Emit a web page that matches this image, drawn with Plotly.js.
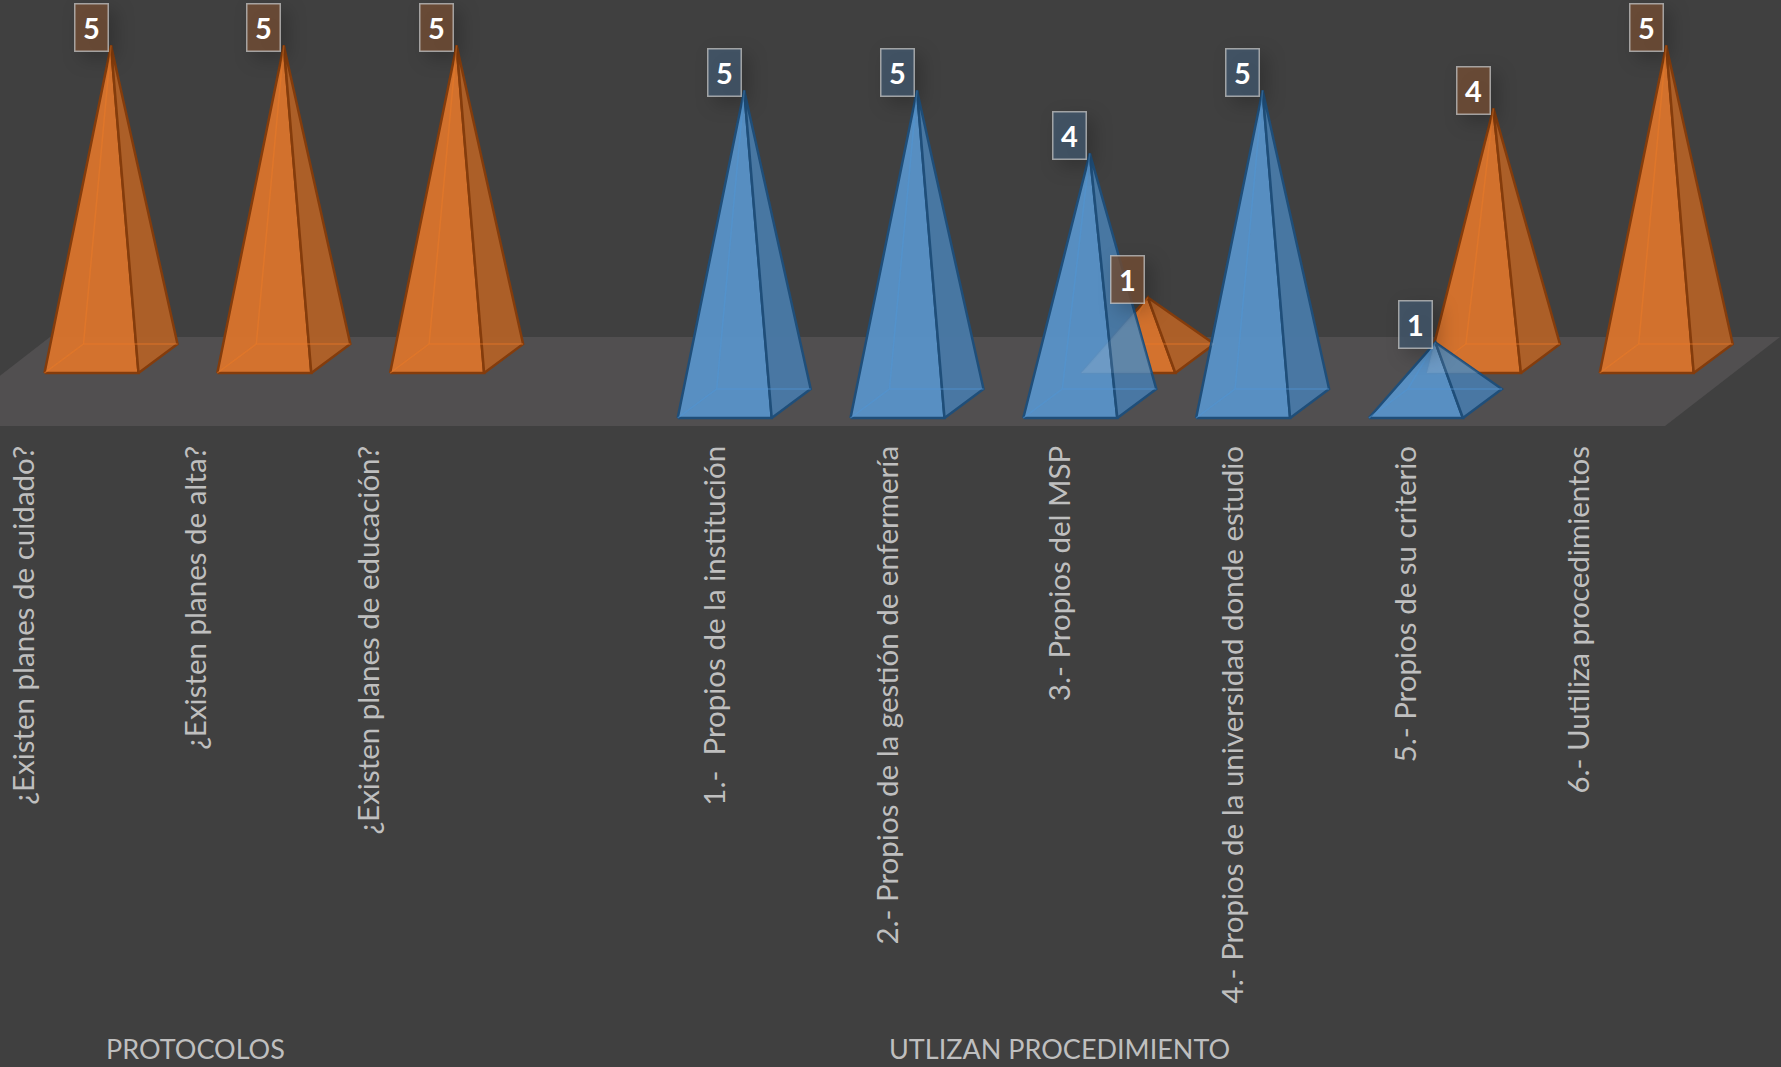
<!DOCTYPE html>
<html><head><meta charset="utf-8">
<script src="https://cdn.plot.ly/plotly-3.0.1.min.js"></script>
<style>
html,body{margin:0;padding:0;background:#404040;overflow:hidden}
.annotation .bg{filter:drop-shadow(7px 7px 9px rgba(0,0,0,.25))}
</style></head>
<body><div id="chart" style="width:1781px;height:1067px"></div>
<script>
// ---- data ----
const categories = ["¿Existen planes de cuidado?","¿Existen planes de alta?","¿Existen planes de educación?","",
  "1.-  Propios de la institución","2.- Propios de la gestión de enfermería","3.- Propios del MSP",
  "4.- Propios de la universidad donde estudio","5.- Propios de su criterio","6.- Uutiliza procedimientos"];
const orangeValues = [5,5,5,null,null,null,1,null,4,5];
const blueValues   = [null,null,null,null,5,5,4,5,1,null];
const groupLabels  = ["PROTOCOLOS","UTLIZAN PROCEDIMIENTO"];
const groupCenters = [1,6];

// ---- projection of the 3D look, in axis units ----
const W=1781,H=1067,plotH=438;
const pxPerCat=172.8,pxPerVal=63;
const xRange=[-24/pxPerCat,(W-24)/pxPerCat];
const yRange=[-0.2-(plotH-418)/pxPerVal,-0.2+418/pxPerVal];
const floorVal=-0.2;
const baseW=94/pxPerCat, depX=39/pxPerCat, depY=29/pxPerVal;

const orangeStyle={x:20.5/pxPerCat,y:45/pxPerVal,front:'rgba(217,116,45,0.96)',side:'rgba(178,97,39,0.95)',edge:'#843C0C',inner:'rgba(232,122,40,0.5)',box:'rgba(112,76,52,0.84)'};
const blueStyle={x:-37.5/pxPerCat,y:0,front:'rgba(88,146,200,0.95)',side:'rgba(72,122,168,0.94)',edge:'#1F4E79',inner:'rgba(80,148,210,0.5)',box:'rgba(66,86,106,0.84)'};

function geom(k,v,s){
  const x0=k+s.x, b=floorVal+s.y;
  return {FL:[x0,b],FR:[x0+baseW,b],BR:[x0+baseW+depX,b+depY],BL:[x0+depX,b+depY],
          A:[x0+(baseW+depX)/2,v+s.y]};
}
function poly(pts,fill,line,width){
  const c=pts.concat([pts[0]]);
  return {type:'scatter',mode:line?'lines':'none',x:c.map(p=>p[0]),y:c.map(p=>p[1]),fill:'toself',
    fillcolor:fill,line:{color:line||'rgba(0,0,0,0)',width:width||0},hoverinfo:'skip',showlegend:false};
}
function seg(pts,color,width){
  return {type:'scatter',mode:'lines',x:pts.map(p=>p[0]),y:pts.map(p=>p[1]),
    line:{color:color,width:width},hoverinfo:'skip',showlegend:false};
}
function pyramid(g,s){
  return [
    seg([g.FL,g.BL,g.BR],s.inner,1.5),
    seg([g.BL,g.A],s.inner,1.5),
    poly([g.FL,g.FR,g.A],s.front,s.edge,2.5),
    poly([g.FR,g.BR,g.A],s.side,s.edge,2.5),
    seg([g.FL,g.BL,g.BR],s.inner,1.5),
    seg([g.BL,g.A],s.inner,1.5)
  ];
}
// clip convex polygon against convex polygon
function clip(subject,clipper){
  let out=subject;
  const area=clipper.reduce((a,p,i)=>{const q=clipper[(i+1)%clipper.length];return a+p[0]*q[1]-q[0]*p[1];},0);
  const sgn=area>0?1:-1;
  clipper.forEach((a,i)=>{
    const b=clipper[(i+1)%clipper.length];
    const side=p=>sgn*((b[0]-a[0])*(p[1]-a[1])-(b[1]-a[1])*(p[0]-a[0]));
    const input=out;out=[];
    input.forEach((p,j)=>{
      const q=input[(j+1)%input.length],sp=side(p),sq=side(q);
      if(sp>=0)out.push(p);
      if(sp*sq<0){const t=sp/(sp-sq);out.push([p[0]+t*(q[0]-p[0]),p[1]+t*(q[1]-p[1])]);}
    });
  });
  return out;
}

const traces=[];
// floor
const fl=-89/pxPerCat, fr=(1665-24)/pxPerCat, fyFront=floorVal-8/pxPerVal, fyBack=floorVal+81/pxPerVal, fdx=115/pxPerCat;
traces.push(poly([[fl,fyFront],[fr,fyFront],[fr+fdx,fyBack],[fl+fdx,fyBack]],'#514F50'));

const ann=[];
function boxAnn(g,v,s){
  ann.push({x:g.A[0],y:g.A[1],xref:'x',yref:'y',xshift:-20,yshift:17.5,text:'<b>'+v+'</b>',showarrow:false,
    width:32,height:46,bgcolor:s.box,bordercolor:'rgba(205,205,205,0.7)',borderwidth:1.5,borderpad:0,
    font:{family:'Lato',size:29,color:'#FFFFFF'},align:'center',valign:'middle'});
}
const oG=[],bG=[];
orangeValues.forEach((v,k)=>{ if(v!==null){const g=geom(k,v,orangeStyle);oG.push(g);traces.push(...pyramid(g,orangeStyle));}});
blueValues.forEach((v,k)=>{ if(v!==null){const g=geom(k,v,blueStyle);bG.push(g);traces.push(...pyramid(g,blueStyle));}});
// lighter patch where an orange pyramid is seen through a blue one
oG.forEach(o=>bG.forEach(b=>{
  const sc=p=>[p[0]*pxPerCat,p[1]*pxPerVal], un=p=>[p[0]/pxPerCat,p[1]/pxPerVal];
  const r=clip([o.FL,o.FR,o.BR,o.A].map(sc),[b.FL,b.FR,b.BR,b.A].map(sc));
  if(r.length>2)traces.push(poly(r.map(un),'rgba(255,255,255,0.09)'));
}));
orangeValues.forEach((v,k)=>{ if(v!==null)boxAnn(geom(k,v,orangeStyle),v,orangeStyle);});
blueValues.forEach((v,k)=>{ if(v!==null)boxAnn(geom(k,v,blueStyle),v,blueStyle);});

groupLabels.forEach((t,i)=>ann.push({x:groupCenters[i],xref:'x',y:(plotH-1048)/plotH,yref:'paper',text:t,showarrow:false,
  xanchor:'center',yanchor:'middle',xshift:-1.5,font:{family:'Lato',size:27,color:'#BFBFBF'}}));

const tickvals=[],ticktext=[];
categories.forEach((c,k)=>{if(c){tickvals.push(k);ticktext.push(c);}});

Plotly.newPlot('chart',traces,{
  width:W,height:H,paper_bgcolor:'#404040',plot_bgcolor:'#404040',showlegend:false,
  margin:{l:0,r:0,t:0,b:H-plotH,pad:0},
  xaxis:{range:xRange,tickmode:'array',tickvals:tickvals,ticktext:ticktext,tickangle:-90,ticklen:0,showgrid:false,zeroline:false,showline:false,automargin:false,
    tickfont:{family:'Lato',size:29.5,color:'#BFBFBF'},ticklabelstandoff:1},
  yaxis:{range:yRange,visible:false,showgrid:false,zeroline:false},
  annotations:ann
},{displayModeBar:false,staticPlot:true});
</script></body></html>
